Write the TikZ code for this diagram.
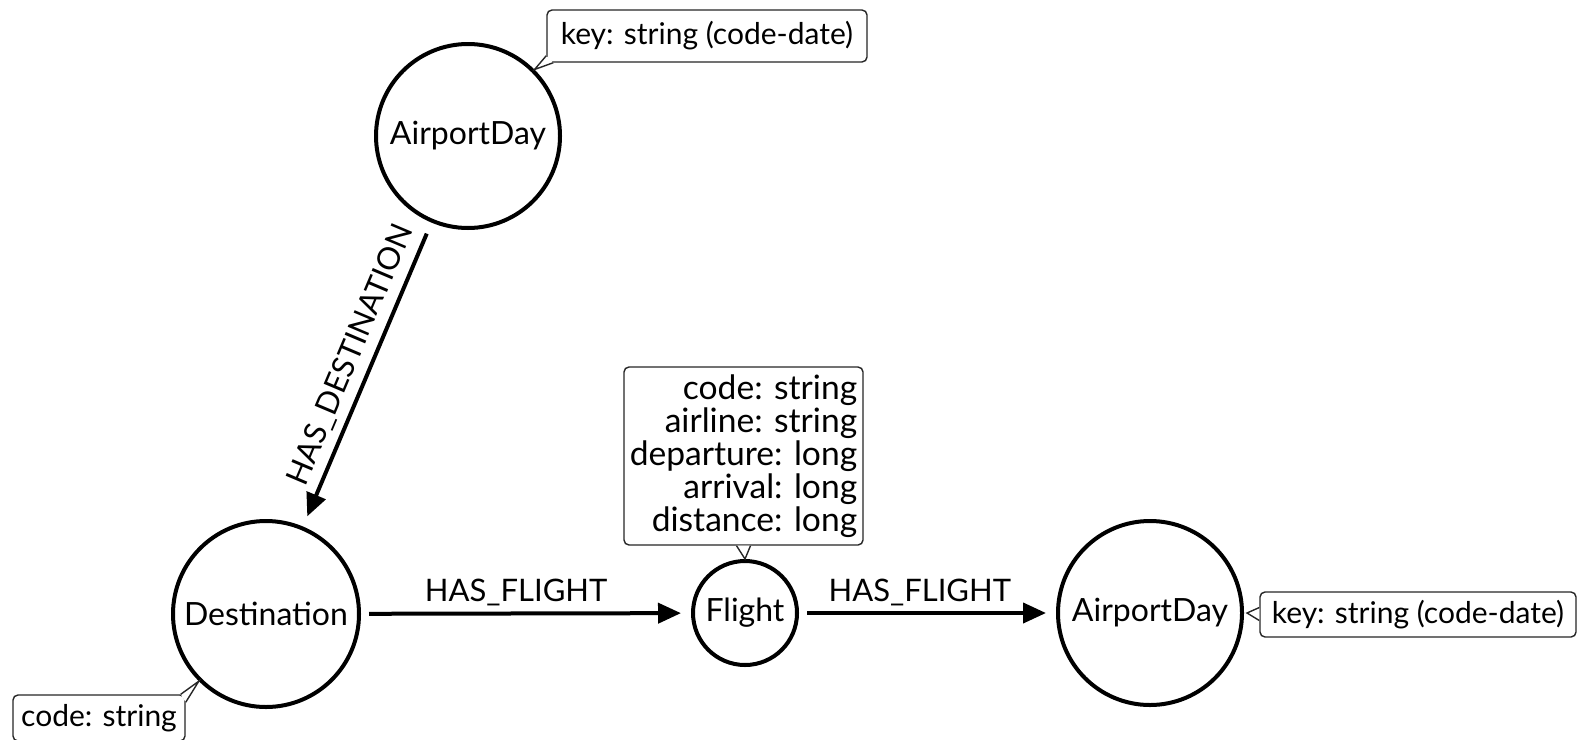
\documentclass[tikz,border=0pt]{standalone}
\usepackage{fontspec}
\setmainfont{Lato}
\usetikzlibrary{arrows.meta,calc}
\begin{document}
\begin{tikzpicture}[x=0.5pt,y=-0.5pt,
  entity/.style={circle,draw,line width=2pt,inner sep=0pt,
    font=\fontsize{16}{19}\selectfont},
  rel/.style={line width=2pt,-{Triangle[length=11.5pt,width=10pt]},
    shorten <=4pt,shorten >=5pt},
  rellabel/.style={font=\fontsize{15.5}{18}\selectfont,inner sep=0pt},
  propbox/.style={draw=black!85,line width=0.7pt,rounded corners=2.5pt,
    fill=white,inner sep=0pt,
    font={\fontsize{15}{12.8}\selectfont\lineskiplimit=-6pt}},
  pointer/.style={draw=black!85,line width=0.7pt,line join=miter}
]
\useasboundingbox (0,0) rectangle (1577,739);

% entity nodes
\node[entity,minimum size=92pt] (ad1)  at (468,136)  {AirportDay};
\node[entity,minimum size=93pt] (dest) at (266,614)  {Destination};
\node[entity,minimum size=52pt] (fl)   at (745,613)  {Flight};
\node[entity,minimum size=92pt] (ad2)  at (1150,613) {AirportDay};

% relationships
\draw[rel,shorten <=6pt,shorten >=5.5pt] (ad1) -- (dest)
  node[rellabel,pos=0.465,sloped,above=3.5pt] {HAS\_DESTINATION};
\draw[rel] (dest) -- (fl)
  node[rellabel,pos=0.47,anchor=base,yshift=6pt] {HAS\_FLIGHT};
\draw[rel] (fl) -- (ad2)
  node[rellabel,pos=0.47,anchor=base,yshift=6pt] {HAS\_FLIGHT};

% property callouts
\node[propbox,minimum width=160pt,minimum height=26pt] (k1) at (707,36)
  {key: string (code-date)};
\coordinate (k1a) at ($(k1.south west)+(0,-7)$);
\coordinate (k1b) at ($(k1.south west)+(7,0)$);
\fill[white] (k1a) -- (ad1.45) -- (k1b) -- cycle;
\draw[pointer] (k1a) -- (ad1.45) -- (k1b);

\node[propbox,minimum width=86pt,minimum height=23pt] (k2) at (99,718)
  {code: string};
\coordinate (k2a) at ($(k2.north east)+(-5,0)$);
\coordinate (k2b) at ($(k2.north east)+(0,8)$);
\fill[white] (k2a) -- (dest.225) -- (k2b) -- cycle;
\draw[pointer] (k2a) -- (dest.225) -- (k2b);

\node[propbox,minimum width=119.5pt,minimum height=89pt,align=right,
  font={\fontsize{16.8}{16.5}\selectfont\lineskiplimit=-6pt}] (k3)
  at (743.5,456)
  {code: string\\airline: string\\departure: long\\arrival: long\\distance: long};
\coordinate (k3a) at ($(k3.south)+(-7,0)$);
\coordinate (k3b) at ($(k3.south)+(7,0)$);
\fill[white] (k3a) -- (fl.north) -- (k3b) -- cycle;
\draw[pointer] (k3a) -- (fl.north) -- (k3b);

\node[propbox,minimum width=158pt,minimum height=22.5pt] (k4) at (1418,614.5)
  {key: string (code-date)};
\coordinate (k4a) at ($(k4.west)+(0,-7)$);
\coordinate (k4b) at ($(k4.west)+(0,6)$);
\coordinate (k4t) at ($(ad2.east)+(3,0)$);
\fill[white] (k4a) -- (k4t) -- (k4b) -- cycle;
\draw[pointer] (k4a) -- (k4t) -- (k4b);
\end{tikzpicture}
\end{document}
